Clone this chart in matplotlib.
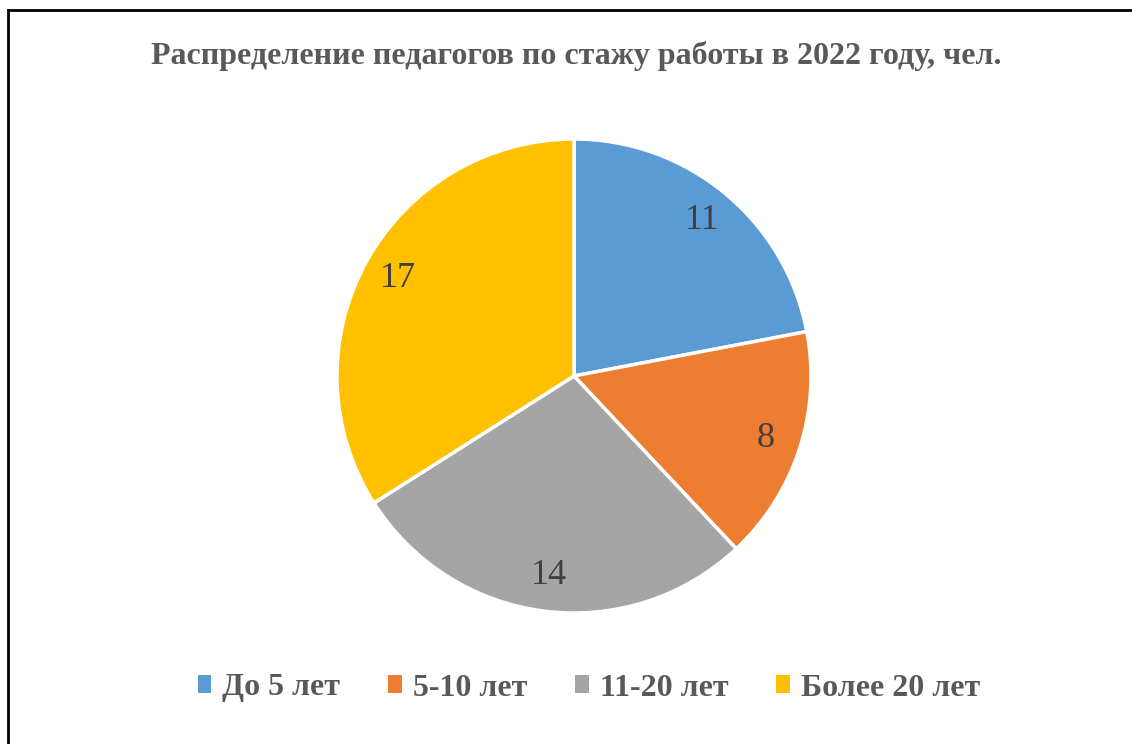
import matplotlib
matplotlib.use('Agg')
import matplotlib.pyplot as plt
from matplotlib.lines import Line2D
from matplotlib.patches import Patch

# data
categories = ['До 5 лет', '5-10 лет', '11-20 лет', 'Более 20 лет']
values = [11, 8, 14, 17]
colors = ['#5B9BD5', '#ED7D31', '#A5A5A5', '#FFC000']
title = 'Распределение педагогов по стажу работы в 2022 году, чел.'

plt.rcParams['font.family'] = ['Liberation Serif', 'DejaVu Serif']
text_color = '#595959'

fig = plt.figure(figsize=(11.32, 7.44), dpi=100)

# frame: only left and top edges are visible
fig.add_artist(Line2D([7.5 / 1132, 7.5 / 1132], [0, 1 - 10 / 744], color='black', lw=2))
fig.add_artist(Line2D([7.5 / 1132, 1], [1 - 10 / 744, 1 - 10 / 744], color='black', lw=2))

fig.text(576 / 1132, 1 - 56 / 744, title, ha='center', va='center',
         fontsize=23, fontweight='bold', color=text_color)

# pie: center (574, 376), radius ~237 px
r_px = 237
ax = fig.add_axes([(574 - r_px) / 1132, (744 - 376 - r_px) / 744,
                   2 * r_px / 1132, 2 * r_px / 744])
wedges, texts = ax.pie(values, colors=colors, startangle=90, counterclock=False,
                       labels=[str(v) for v in values], labeldistance=0.85,
                       wedgeprops={'edgecolor': 'white', 'linewidth': 2.5},
                       textprops={'fontsize': 26, 'color': '#404040'})
for t in texts:
    t.set_ha('center')
    t.set_va('center')
ax.set_aspect('equal')
ax.set_xlim(-1, 1)
ax.set_ylim(-1, 1)

handles = [Patch(facecolor=c, edgecolor='none') for c in colors]
fig.legend(handles, categories, loc='center', bbox_to_anchor=(589 / 1132, 1 - 688 / 744),
           ncol=4, frameon=False, handlelength=0.42, handleheight=0.5, handletextpad=0.35,
           columnspacing=1.5, prop={'size': 23, 'weight': 'bold'}, labelcolor=text_color)

fig.savefig('out.png', dpi=100, facecolor='white')
